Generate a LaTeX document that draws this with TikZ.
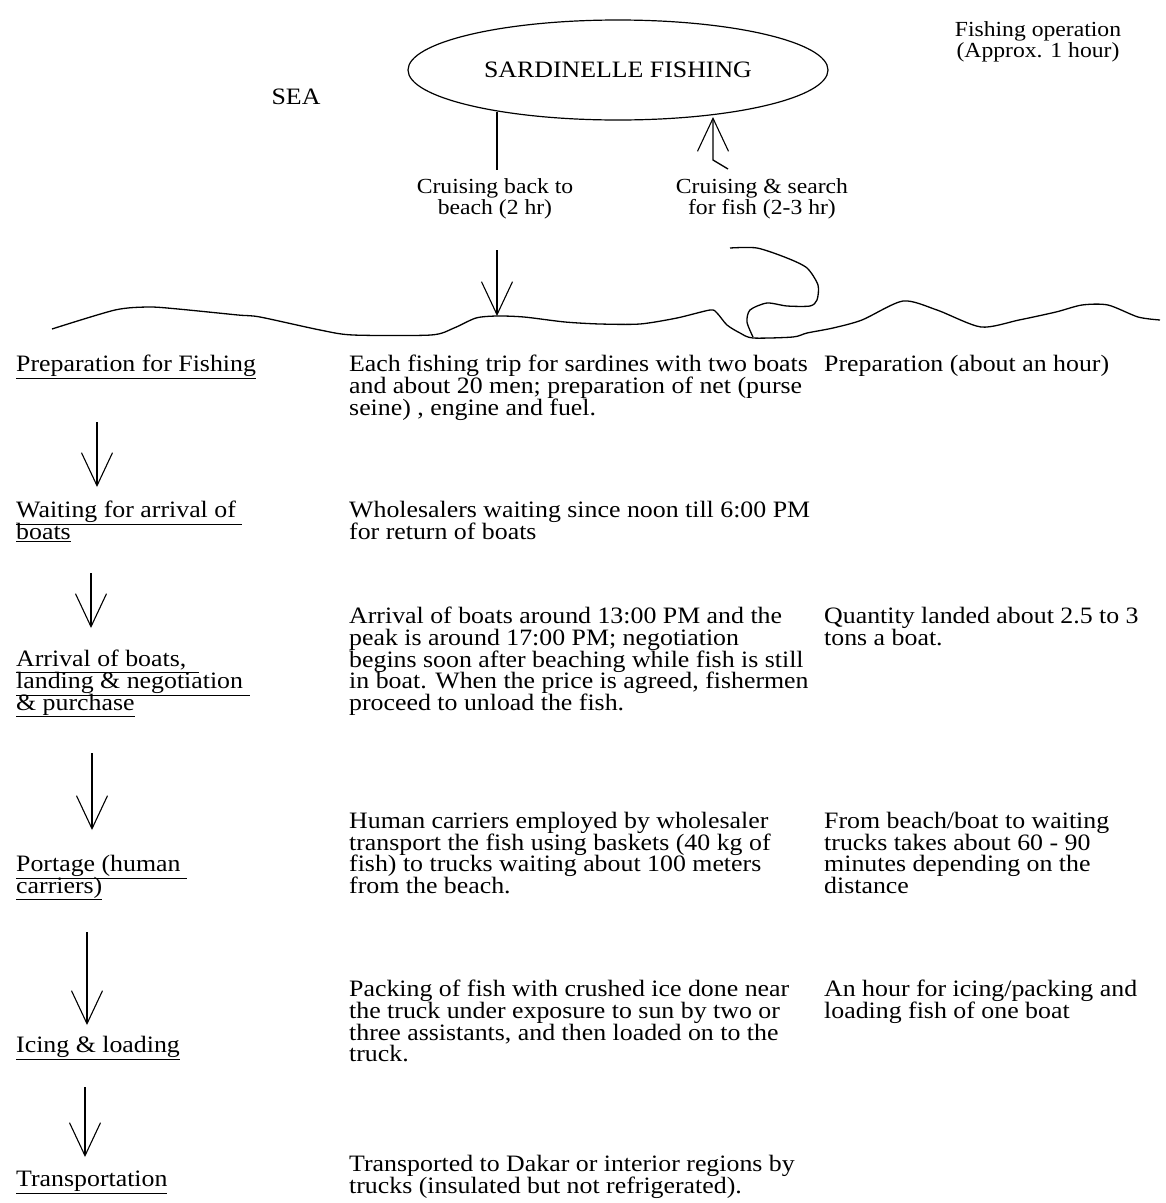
\documentclass[tikz,border=0pt]{standalone}
\usepackage{fontspec}
\setmainfont{Liberation Serif}[FakeStretch=1.1]
\usetikzlibrary{arrows.meta,shapes.geometric}

\tikzset{
  txt/.style={anchor=north west, align=left, inner sep=0pt,
    font=\fontsize{23.5}{21.7}\selectfont},
  ctxt/.style={anchor=north, align=center, inner sep=0pt,
    font=\fontsize{21.5}{21.5}\selectfont},
  line/.style={line width=1.3pt},
  flow/.style={line width=1.3pt, -{Straight Barb[length=33pt,width=31pt,line width=1.1pt]}},
  sea/.style={line width=1.3pt, line join=round}
}

\begin{document}
\lineskiplimit=-100pt
\lineskip=0pt
\begin{tikzpicture}[x=1pt,y=-1pt]
\useasboundingbox (0,0) rectangle (1166,1203);

% --- fishing ground -------------------------------------------------------
\node[draw, line width=1.2pt, ellipse, minimum width=420pt, minimum height=100pt,
      inner sep=0pt, font=\fontsize{23.5}{21.7}\selectfont] (fishing) at (618,70) {SARDINELLE FISHING};
\node[ctxt, anchor=base, font=\fontsize{23.5}{21.7}\selectfont] (sea) at (296,104) {SEA};
\node[ctxt] (op) at (1038,21) {Fishing operation\\(Approx. 1 hour)};

\node[ctxt] (back) at (495,178) {Cruising back to\\beach (2 hr)};
\node[ctxt] (search) at (762,178) {Cruising \& search\\for fish (2-3 hr)};

\coordinate (backtop) at (497,112);
\coordinate (backend) at (497,170);
\draw[line] (backtop) -- (backend);

\coordinate (kink) at (728,169);
\coordinate (uptail) at (713,160);
\coordinate (uptip) at (713,117);
\draw[flow] (kink) -- (uptail) -- (uptip);

\coordinate (landtop) at (497,250);
\coordinate (landtip) at (497,316);
\draw[flow] (landtop) -- (landtip);

% --- shore line -----------------------------------------------------------
\draw[sea] plot[smooth, tension=0.45] coordinates {
  (52,329) (115,310) (149,307) (178,309) (238,315) (260,317) (320,330)
  (353,335) (431,335) (454,328) (476,318) (497,316) (524,317) (565,322)
  (600,324) (640,324) (677,318) (710,310) (717,313) (727,325) (740,333)
  (753,338) (793,337) (807,333) (833,328) (862,320) (903,301) (937,310)
  (981,327) (1019,320) (1056,312) (1082,305) (1108,305) (1138,317) (1160,320)};
\draw[sea] plot[smooth, tension=0.45] coordinates {
  (730,248) (757,248) (787,258) (807,268) (818,285) (817,300) (810,306)
  (787,306) (767,303) (750,310) (747,322) (753,337)};

% --- shore activities -----------------------------------------------------
\node[txt] (prep) at (16,355) {\underline{Preparation for Fishing}};
\node[txt] (prepD) at (349,355) {Each fishing trip for sardines with two boats\\and about 20 men; preparation of net (purse\\seine) , engine and fuel.};
\node[txt] (prepT) at (824,355) {Preparation (about an hour)};

\node[txt] (wait) at (16,501) {\underline{Waiting for arrival of\ }\\\underline{boats}};
\node[txt] (waitD) at (349,501) {Wholesalers waiting since noon till 6:00 PM\\for return of boats};

\node[txt] (arr) at (16,650) {\underline{Arrival of boats,\ \ }\\\underline{landing \& negotiation\ }\\\underline{\& purchase}};
\node[txt] (arrD) at (349,607) {Arrival of boats around 13:00 PM and the\\peak is around 17:00 PM; negotiation\\begins soon after beaching while fish is still\\in boat. When the price is agreed, fishermen\\proceed to unload the fish.};
\node[txt] (arrT) at (824,607) {Quantity landed about 2.5 to 3\\tons a boat.};

\node[txt] (port) at (16,855) {\underline{Portage (human\ }\\\underline{carriers)}};
\node[txt] (portD) at (349,812) {Human carriers employed by wholesaler\\transport the fish using baskets (40 kg of\\fish) to trucks waiting about 100 meters\\from the beach.};
\node[txt] (portT) at (824,812) {From beach/boat to waiting\\trucks takes about 60 - 90\\minutes depending on the\\distance};

\node[txt] (ice) at (16,1036) {\underline{Icing \& loading}};
\node[txt] (iceD) at (349,980) {Packing of fish with crushed ice done near\\the truck under exposure to sun by two or\\three assistants, and then loaded on to the\\truck.};
\node[txt] (iceT) at (824,980) {An hour for icing/packing and\\loading fish of one boat};

\node[txt] (trans) at (16,1171) {\underline{Transportation}};
\node[txt] (transD) at (349,1155) {Transported to Dakar or interior regions by\\trucks (insulated but not refrigerated).};

% --- flow between the stages ----------------------------------------------
\coordinate (s1) at (97,422);  \coordinate (e1) at (97,487);
\coordinate (s2) at (91,573);  \coordinate (e2) at (91,628);
\coordinate (s3) at (92,753);  \coordinate (e3) at (92,830);
\coordinate (s4) at (87,932);  \coordinate (e4) at (87,1025);
\coordinate (s5) at (85,1087); \coordinate (e5) at (85,1157);
\draw[flow] (s1) -- (e1);
\draw[flow] (s2) -- (e2);
\draw[flow] (s3) -- (e3);
\draw[flow] (s4) -- (e4);
\draw[flow] (s5) -- (e5);
\end{tikzpicture}
\end{document}
